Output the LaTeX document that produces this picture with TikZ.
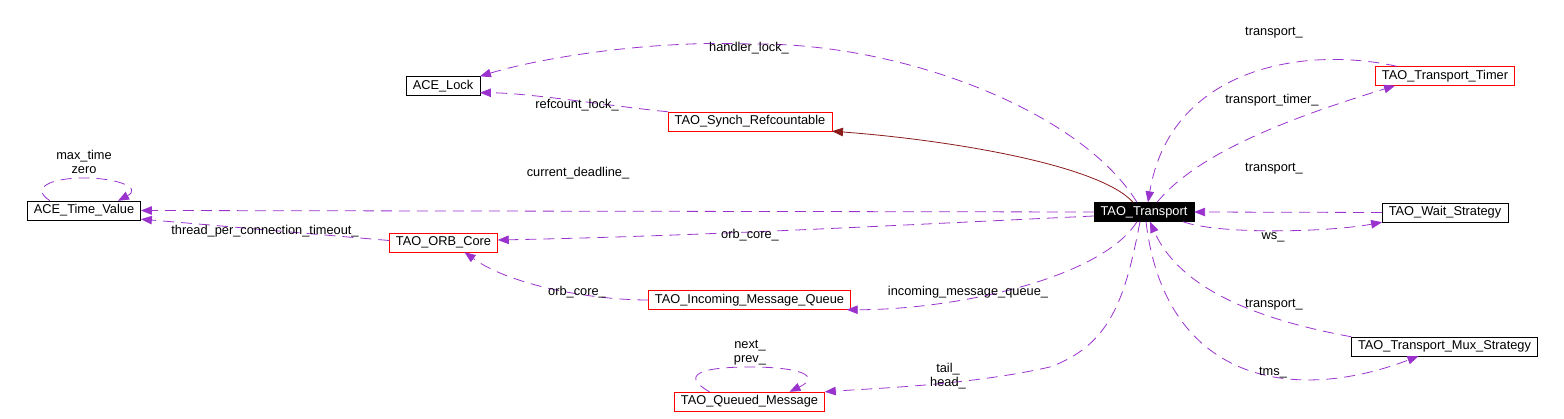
\documentclass[tikz,border=0pt]{standalone}
\usepackage{fontspec}
\setmainfont{Liberation Sans}
\usetikzlibrary{arrows.meta}
\definecolor{usepurple}{RGB}{154, 50, 205}
\definecolor{inhred}{RGB}{139, 26, 26}

\begin{document}
\begin{tikzpicture}[x=1pt, y=-1pt,
                font=\fontsize{12.8}{14}\selectfont,
                classbox/.style={draw=black, fill=white, inner xsep=6.5pt, inner ysep=0pt,
                    minimum height=19pt},
                partbox/.style={classbox, draw=red},
                mainbox/.style={classbox, fill=black, text=white},
                uses/.style={draw=usepurple, line width=0.8pt, dash pattern=on 11pt off 7pt,
                    -{Triangle[length=11pt, width=8.5pt]}},
                inherits/.style={draw=inhred, line width=0.8pt,
                    -{Triangle[length=11pt, width=8.5pt]}},
                role/.style={inner sep=1pt, align=center}
            ]
            \useasboundingbox (0,0) rectangle (1564,419);

            % classes
            \node[classbox] (lock) at (443, 86) {ACE\_Lock};
            \node[classbox] (tv) at (84, 210.5) {ACE\_Time\_Value};
            \node[partbox] (orb) at (443.5, 242.5) {TAO\_ORB\_Core};
            \node[partbox] (synch) at (750, 121.5) {TAO\_Synch\_Refcountable};
            \node[mainbox] (trans) at (1144, 212) {TAO\_Transport};
            \node[partbox] (timer) at (1445, 76) {TAO\_Transport\_Timer};
            \node[classbox] (wait) at (1445, 212.5) {TAO\_Wait\_Strategy};
            \node[partbox] (imq) at (749.5, 300) {TAO\_Incoming\_Message\_Queue};
            \node[partbox] (qm) at (749.5, 401.5) {TAO\_Queued\_Message};
            \node[classbox] (mux) at (1444.5, 346.5) {TAO\_Transport\_Mux\_Strategy};

            % inheritance
            \draw[inherits] ([xshift=-11pt]trans.north) .. controls (1100, 165) and (950, 140) .. (synch.south east);

            % locks
            \draw[uses] ([xshift=-7pt]trans.north) .. controls (1080, 110) and (900, 42) .. (750, 44)
                .. controls (650, 40) and (540, 58) .. (lock.north east);
            \draw[uses] (synch.north west) .. controls (610, 106) and (530, 93) .. ([yshift=3pt]lock.south east);

            % time values
            \draw[uses] ([xshift=-34pt]tv.north) .. controls (30, 188) and (50, 178) .. (84, 178)
                .. controls (118, 178) and (142, 188) .. ([xshift=34pt]tv.north);
            \draw[uses] (trans.west) -- (tv.east);
            \draw[uses] ([yshift=2pt]orb.west) .. controls (300, 233) and (200, 224) .. ([yshift=1pt]tv.south east);

            % orb core
            \draw[uses] ([yshift=-4pt]trans.west) .. controls (900, 225) and (700, 236) .. ([yshift=2.5pt]orb.east);
            \draw[uses] (imq.west) .. controls (590, 300) and (510, 285) .. ([xshift=21pt]orb.south);

            % message queues
            \draw[uses] ([xshift=-7pt]trans.south) .. controls (1100, 280) and (950, 310) .. ([xshift=-4pt]imq.south east);
            \draw[uses] ([xshift=-40pt]qm.north) .. controls (680, 375) and (700, 367) .. (750, 367)
                .. controls (800, 367) and (822, 376) .. ([xshift=40pt]qm.north);
            \draw[uses] ([xshift=-4pt]trans.south) .. controls (1125, 300) and (1110, 345) .. (1050, 367)
                .. controls (970, 385) and (880, 388) .. (qm.north east);

            % timer
            \draw[uses] ([xshift=-48pt]timer.north) .. controls (1300, 45) and (1170, 70) .. ([xshift=4pt]trans.north);
            \draw[uses] ([xshift=13pt]trans.north) .. controls (1200, 150) and (1300, 115) .. ([xshift=-50pt]timer.south);

            % wait strategy
            \draw[uses] (wait.west) -- (trans.east);
            \draw[uses] ([xshift=39pt]trans.south) .. controls (1220, 235) and (1330, 232) .. (wait.south west);

            % mux strategy
            \draw[uses] (mux.north west) .. controls (1260, 320) and (1180, 290) .. ([xshift=6pt]trans.south);
            \draw[uses] ([xshift=2pt]trans.south) .. controls (1165, 380) and (1290, 405) .. ([xshift=-26pt]mux.south);

            % roles
            \node[role] (lhandler) at (749, 48) {handler\_lock\_};
            \node[role] (lrefc) at (577, 105) {refcount\_lock\_};
            \node[role] (ltvloop) at (84, 162) {max\_time\\zero};
            \node[role] (ldead) at (578, 173) {current\_deadline\_};
            \node[role] (ltpc) at (265, 231) {thread\_per\_connection\_timeout\_};
            \node[role] (lorbtop) at (750, 235) {orb\_core\_};
            \node[role] (lorbimq) at (577, 292) {orb\_core\_};
            \node[role] (limq) at (968, 292) {incoming\_message\_queue\_};
            \node[role] (lqmloop) at (750, 352.5) {next\_\\prev\_};
            \node[role] (lqm) at (948, 376) {tail\_\\head\_};
            \node[role] (ltrtimer) at (1274, 33) {transport\_};
            \node[role] (ltimer) at (1272, 100) {transport\_timer\_};
            \node[role] (ltrwait) at (1274, 169) {transport\_};
            \node[role] (lws) at (1273, 237) {ws\_};
            \node[role] (ltrmux) at (1274, 305) {transport\_};
            \node[role] (ltms) at (1273, 373) {tms\_};

            \end{tikzpicture}
\end{document}
